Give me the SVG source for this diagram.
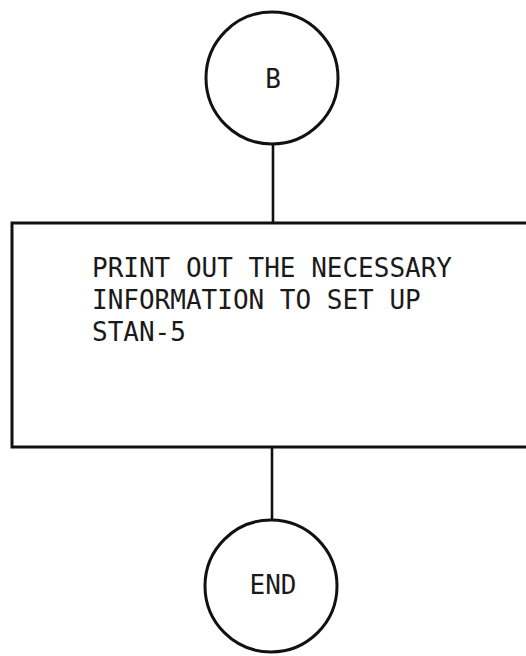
<svg xmlns="http://www.w3.org/2000/svg" width="526" height="656" viewBox="0 0 526 656">
<style>
.shape{fill:none;stroke:#111;stroke-width:3}
.conn{stroke:#111;stroke-width:2.6;fill:none}
.t{font-family:"DejaVu Sans Mono","Liberation Mono",monospace;font-size:26px;fill:#1a1a1a}
</style>
<rect width="526" height="656" fill="#fff"/>
<g id="connectors">
<line class="conn" x1="273" y1="145" x2="273" y2="223"/>
<line class="conn" x1="272" y1="447" x2="272" y2="520"/>
</g>
<g id="node-b">
<circle class="shape" cx="272" cy="78" r="66"/>
<text class="t" x="273" y="88" text-anchor="middle">B</text>
</g>
<g id="node-print">
<rect class="shape" x="12" y="223" width="530" height="224"/>
<text class="t" x="92" y="277">PRINT OUT THE NECESSARY</text>
<text class="t" x="92" y="309">INFORMATION TO SET UP</text>
<text class="t" x="92" y="341">STAN-5</text>
</g>
<g id="node-end">
<circle class="shape" cx="271" cy="586" r="66"/>
<text class="t" x="273" y="594" text-anchor="middle">END</text>
</g>
</svg>
